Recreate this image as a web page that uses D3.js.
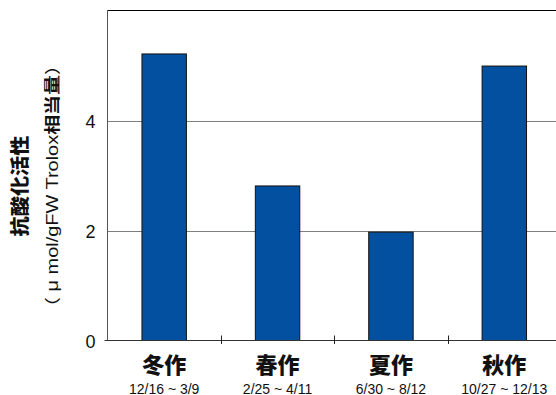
<!DOCTYPE html>
<html>
<head>
<meta charset="utf-8">
<script src="https://cdn.jsdelivr.net/npm/d3@7"></script>
<style>
html,body{margin:0;padding:0;background:#fff;}
svg{display:block;}
</style>
</head>
<body>
<script>
const categories = ["冬作", "春作", "夏作", "秋作"];
const periods = ["12/16 ~ 3/9", "2/25 ~ 4/11", "6/30 ~ 8/12", "10/27 ~ 12/13"];
const values = [5.21, 2.81, 1.97, 4.99];
const yTicks = [0, 2, 4];
const yMax = 6;
const yTitle1 = "抗酸化活性";
const yTitle2a = "（ μ mol/gFW Trolox";
const yTitle2b = "相当量";
const yTitle2c = "）";

const W = 556, H = 395;
const mLeft = 107.5, mRight = 561, mTop = 10.5, mBottom = 340.5;
const latin = "'Liberation Sans', Arial, 'Noto Sans CJK JP', sans-serif";
const cjk = "'Noto Sans CJK JP', 'Liberation Sans', sans-serif";

const svg = d3.select("body").append("svg").attr("width", W).attr("height", H);

const x = d3.scaleBand().domain(categories).range([mLeft, mRight])
  .paddingInner(0.608).paddingOuter(0.304);
const y = d3.scaleLinear().domain([0, yMax]).range([mBottom, mTop]);

// gridlines
svg.append("g").selectAll("line").data(yTicks.filter(t => t > 0)).join("line")
  .attr("x1", mLeft).attr("x2", W).attr("y1", d => Math.round(y(d)) + 0.5).attr("y2", d => Math.round(y(d)) + 0.5)
  .attr("stroke", "#7f7f7f").attr("stroke-width", 1);

// top border
svg.append("line").attr("x1", mLeft).attr("x2", W).attr("y1", y(yMax)).attr("y2", y(yMax))
  .attr("stroke", "#000").attr("stroke-width", 1);

// bars
svg.append("g").selectAll("rect").data(values).join("rect")
  .attr("x", (d, i) => x(categories[i]))
  .attr("width", x.bandwidth())
  .attr("y", d => y(d))
  .attr("height", d => y(0) - y(d))
  .attr("fill", "#0450a0")
  .attr("stroke", "#111")
  .attr("stroke-width", 1);

// y axis line
svg.append("line").attr("x1", mLeft).attr("x2", mLeft).attr("y1", mTop).attr("y2", mBottom)
  .attr("stroke", "#555").attr("stroke-width", 1);
// x axis line
svg.append("line").attr("x1", mLeft - 3).attr("x2", W).attr("y1", mBottom).attr("y2", mBottom)
  .attr("stroke", "#333").attr("stroke-width", 1);

// x ticks at band boundaries
svg.append("g").selectAll("line").data(categories.slice(1)).join("line")
  .attr("x1", d => Math.round(x(d) + x.bandwidth() / 2 - x.step() / 2) + 0.5)
  .attr("x2", d => Math.round(x(d) + x.bandwidth() / 2 - x.step() / 2) + 0.5)
  .attr("y1", mBottom - 5).attr("y2", mBottom + 3.5)
  .attr("stroke", "#222").attr("stroke-width", 1);

// y tick labels
svg.append("g").selectAll("text").data(yTicks).join("text")
  .attr("x", 95.5).attr("y", d => y(d) + 7.5)
  .attr("text-anchor", "end")
  .attr("font-family", latin).attr("font-size", 18)
  .attr("fill", "#111")
  .text(d => d);

// category labels
svg.append("g").selectAll("text").data(categories).join("text")
  .attr("x", d => x(d) + x.bandwidth() / 2).attr("y", 373)
  .attr("text-anchor", "middle")
  .attr("font-family", cjk).attr("font-size", 22).attr("font-weight", 900)
  .attr("fill", "#111")
  .text(d => d);

// period labels
svg.append("g").selectAll("text").data(periods).join("text")
  .attr("x", (d, i) => x(categories[i]) + x.bandwidth() / 2).attr("y", 393.5)
  .attr("text-anchor", "middle")
  .attr("font-family", latin).attr("font-size", 14)
  .attr("fill", "#111")
  .text(d => d);

// y title
svg.append("text")
  .attr("transform", "translate(27,186) rotate(-90)")
  .attr("text-anchor", "middle")
  .attr("font-family", cjk).attr("font-size", 19).attr("font-weight", 900)
  .attr("fill", "#111")
  .attr("textLength", 101).attr("lengthAdjust", "spacingAndGlyphs")
  .text(yTitle1);

const t2 = svg.append("text")
  .attr("transform", "translate(58,186) rotate(-90)")
  .attr("text-anchor", "middle")
  .attr("font-family", latin).attr("font-size", 16)
  .attr("fill", "#111")
  .attr("textLength", 262).attr("lengthAdjust", "spacingAndGlyphs");
t2.append("tspan").attr("font-family", cjk).text("（");
t2.append("tspan").text(yTitle2a.slice(1));
t2.append("tspan").attr("font-family", cjk).attr("font-weight", "bold").text(yTitle2b);
t2.append("tspan").attr("font-family", cjk).text(yTitle2c);
</script>
</body>
</html>
